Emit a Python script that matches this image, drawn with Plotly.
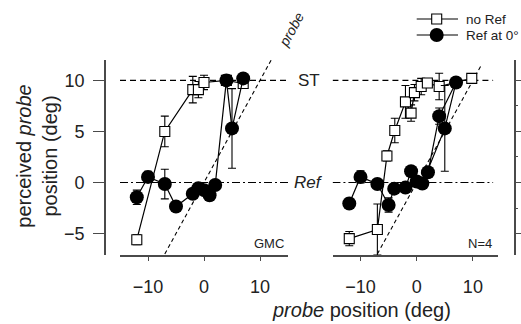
import plotly.graph_objects as go

# ---------------- data ----------------
# left panel (subject GMC)
gmc_noref_x = [-12, -7, -2, -1, 0, 4, 7]
gmc_noref_y = [-5.6, 5.0, 9.1, 9.1, 9.8, 10.0, 9.7]
gmc_noref_e = [0.5, 1.5, 1.3, 0.8, 0.7, 0.5, 0.3]

gmc_ref_x = [-12, -10, -7, -5, -2, -1, 0, 1, 2, 4, 5, 7]
gmc_ref_y = [-1.45, 0.55, -0.15, -2.35, -1.1, -0.55, -0.75, -1.25, -0.25, 10.0, 5.3, 10.2]
gmc_ref_e = [0.7, 0.55, 1.45, 0.4, 0.3, 0.3, 0.3, 0.4, 0.3, 0.5, 3.9, 0.3]

# right panel (N=4)
n4_noref_x = [-12, -7, -5.3, -3.9, -2, -1, -0.4, 0.8, 1.9, 4, 9.8]
n4_noref_y = [-5.5, -4.6, 2.6, 5.1, 7.9, 6.8, 8.8, 9.4, 9.75, 9.4, 10.2]
n4_noref_e = [0.7, 2.5, 0.5, 1.2, 1.6, 0.8, 0.8, 0.8, 0.3, 1.3, 0.3]

n4_ref_x = [-12, -10, -7, -5, -4, -2, -1, 0, 1, 5, 7, 4, 2]
n4_ref_y = [-2.05, 0.55, -0.15, -2.2, -0.6, -0.5, 1.1, 0.1, -0.1, 5.3, 9.8, 6.5, 1.0]
n4_ref_e = [0.5, 0.6, 0.4, 0.7, 0.3, 0.3, 0.4, 0.3, 0.3, 4.2, 0.3, 0.8, 0.3]

# identity (veridical) lines
ident_left = [-7, 12]
ident_right = [-7, 11.5]

x_ticks = [-10, 0, 10]
y_ticks = [-5, 0, 5, 10]
st_level = 10
ref_level = 0

W, H = 521, 324
FONT = "Liberation Sans, Arial, sans-serif"
AX = "#4a4a4a"


def px(x):
    return x / W


def py(y):
    return 1 - y / H


fig = go.Figure()

# identity lines
for xs, xa, ya in [(ident_left, "x", "y"), (ident_right, "x2", "y2")]:
    fig.add_trace(go.Scatter(x=xs, y=xs, xaxis=xa, yaxis=ya, mode="lines",
                             line=dict(color="black", width=1.1, dash="4px,3px"),
                             hoverinfo="skip", showlegend=False))


def add_series(xs, ys, es, xa, ya, kind):
    if kind == "sq":
        marker = dict(symbol="square", size=10, color="white",
                      line=dict(color="black", width=1.1))
    else:
        marker = dict(symbol="circle", size=14, color="black",
                      line=dict(color="black", width=0))
    fig.add_trace(go.Scatter(
        x=xs, y=ys, xaxis=xa, yaxis=ya, mode="lines+markers",
        line=dict(color="black", width=1.2), marker=marker,
        error_y=dict(type="data", array=es, visible=True, color="black",
                     thickness=1.1, width=4),
        showlegend=False, cliponaxis=False))


add_series(gmc_noref_x, gmc_noref_y, gmc_noref_e, "x", "y", "sq")
add_series(gmc_ref_x, gmc_ref_y, gmc_ref_e, "x", "y", "ci")
add_series(n4_noref_x, n4_noref_y, n4_noref_e, "x2", "y2", "sq")
add_series(n4_ref_x, n4_ref_y, n4_ref_e, "x2", "y2", "ci")

shapes = []
# horizontal reference lines
for xr, yr, x0, x1 in [("x", "y", -15, 15.8), ("x2", "y2", -15, 13.6)]:
    shapes.append(dict(type="line", xref=xr, yref=yr, x0=x0, x1=x1,
                       y0=st_level, y1=st_level, layer="below",
                       line=dict(color="black", width=1.1, dash="6px,4px")))
    shapes.append(dict(type="line", xref=xr, yref=yr, x0=x0, x1=x1,
                       y0=ref_level, y1=ref_level, layer="below",
                       line=dict(color="black", width=1.1, dash="8px,3px,2px,3px")))

# manual legend glyphs
LEG1, LEG2 = 19, 35
for ly in (LEG1, LEG2):
    shapes.append(dict(type="line", xref="paper", yref="paper",
                       x0=px(416.7), x1=px(458), y0=py(ly), y1=py(ly),
                       line=dict(color="black", width=1.2)))
shapes.append(dict(type="rect", xref="paper", yref="paper",
                   x0=px(431.7), x1=px(441.7), y0=py(LEG1 + 5), y1=py(LEG1 - 5),
                   fillcolor="white", line=dict(color="black", width=1.1)))
shapes.append(dict(type="circle", xref="paper", yref="paper",
                   x0=px(429.7), x1=px(443.7), y0=py(LEG2 + 7), y1=py(LEG2 - 7),
                   fillcolor="black", line=dict(color="black", width=0)))

ann = []
ann.append(dict(text="perceived <i>probe</i><br>position (deg)", x=px(37), y=py(156.7),
                xref="paper", yref="paper", showarrow=False, textangle=-90,
                xanchor="center", yanchor="middle", font=dict(size=20, family=FONT, color="#222")))
ann.append(dict(text="<i>probe</i> position (deg)", x=px(361), y=py(310),
                xref="paper", yref="paper", showarrow=False,
                xanchor="center", yanchor="middle", font=dict(size=20, family=FONT, color="#222")))
ann.append(dict(text="ST", x=px(309), y=py(80.4), xref="paper", yref="paper",
                showarrow=False, xanchor="center", yanchor="middle",
                font=dict(size=17, family=FONT, color="#222")))
ann.append(dict(text="<i>Ref</i>", x=px(308.5), y=py(182.7), xref="paper", yref="paper",
                showarrow=False, xanchor="center", yanchor="middle",
                font=dict(size=17, family=FONT, color="#222")))
ann.append(dict(text="<i>probe</i>", x=px(291), y=py(30), xref="paper", yref="paper",
                showarrow=False, textangle=-61, xanchor="center", yanchor="middle",
                font=dict(size=14, family=FONT, color="#222")))
ann.append(dict(text="GMC", x=px(286), y=py(243), xref="paper", yref="paper",
                showarrow=False, xanchor="right", yanchor="middle",
                font=dict(size=13, family=FONT, color="#222")))
ann.append(dict(text="N=4", x=px(494), y=py(243), xref="paper", yref="paper",
                showarrow=False, xanchor="right", yanchor="middle",
                font=dict(size=13, family=FONT, color="#222")))
ann.append(dict(text="no Ref", x=px(465), y=py(LEG1), xref="paper", yref="paper",
                showarrow=False, xanchor="left", yanchor="middle", borderpad=0,
                font=dict(size=13.5, family=FONT, color="#222")))
ann.append(dict(text="Ref at 0°", x=px(465), y=py(LEG2), xref="paper", yref="paper",
                showarrow=False, xanchor="left", yanchor="middle", borderpad=0,
                font=dict(size=13.5, family=FONT, color="#222")))

ydom = [py(255), py(60)]
xcommon = dict(showline=True, linecolor=AX, linewidth=1.6, ticks="outside", ticklen=4,
               tickcolor=AX, tickwidth=1.4, tickvals=x_ticks, showgrid=False, zeroline=False,
               tickfont=dict(size=18, family=FONT, color="#222"), ticklabelstandoff=11)

fig.update_layout(
    width=W, height=H, autosize=False,
    margin=dict(l=0, r=0, t=0, b=0),
    paper_bgcolor="white", plot_bgcolor="white",
    showlegend=False,
    xaxis=dict(domain=[px(120), px(288)], range=[-15, 15], anchor="y", **xcommon),
    xaxis2=dict(domain=[px(332.7), px(498)], range=[-14.95, 14.47], anchor="y2", **xcommon),
    yaxis=dict(domain=ydom, range=[-7.1, 12.0], anchor="free", position=px(105),
               showline=True, linecolor=AX, linewidth=1.6, ticks="outside", ticklen=11,
               tickcolor=AX, tickwidth=1.4, tickvals=y_ticks, showgrid=False, zeroline=False,
               tickfont=dict(size=18, family=FONT, color="#222"), ticklabelstandoff=5),
    yaxis2=dict(domain=ydom, range=[-7.1, 12.0], anchor="free", position=px(515), side="right",
                showline=True, linecolor=AX, linewidth=1.6, ticks="outside", ticklen=6,
                tickcolor=AX, tickwidth=1.4, tickvals=y_ticks, showticklabels=False,
                showgrid=False, zeroline=False,
                minor=dict(tickvals=[-2.5, 2.5, 7.5], ticks="outside", ticklen=2,
                           tickcolor=AX, tickwidth=1.2, showgrid=False)),
    shapes=shapes, annotations=ann,
)

fig.write_html("out.html")
